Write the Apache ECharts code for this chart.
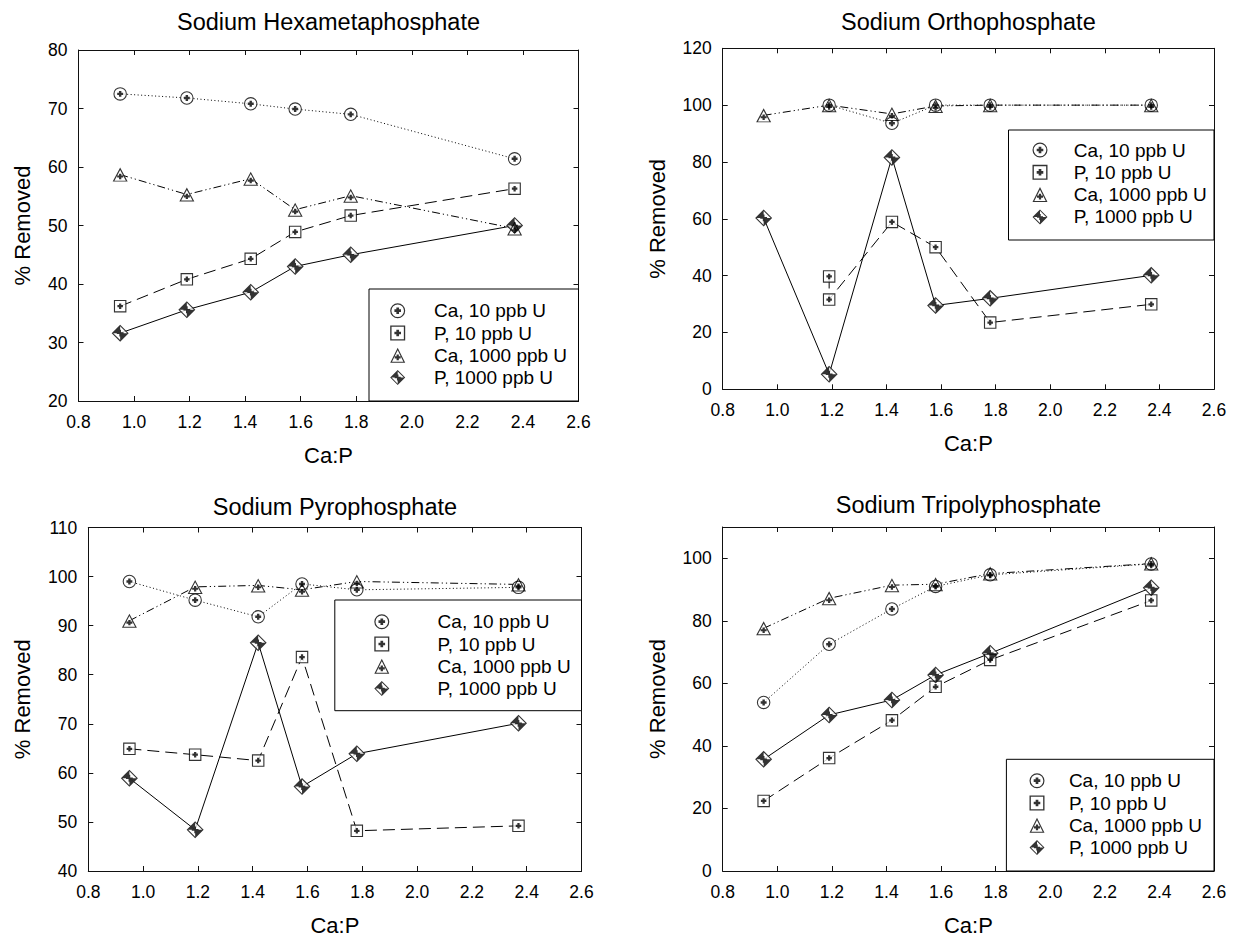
<!DOCTYPE html>
<html><head><meta charset="utf-8">
<script src="https://cdn.jsdelivr.net/npm/echarts@6/dist/echarts.min.js"></script>
<style>html,body{margin:0;padding:0;background:#fff}#chart{width:1233px;height:938px}</style>
</head><body><div id="chart"></div>
<script>
// ---------------- DATA ----------------
const seriesNames = ['Ca, 10 ppb U', 'P, 10 ppb U', 'Ca, 1000 ppb U', 'P, 1000 ppb U'];
const panelTitles = ['Sodium Hexametaphosphate', 'Sodium Orthophosphate', 'Sodium Pyrophosphate', 'Sodium Tripolyphosphate'];
const xAxisTitle = 'Ca:P';
const yAxisTitle = '% Removed';
const xTicks = [0.8, 2.6, 0.2];            // min, max, step
const yTicksHexa = [20, 80, 10];
const yTicksOrtho = [0, 120, 20];
const yTicksPyro = [40, 110, 10];
const yTicksTri = [0, 110, 20];             // last labelled tick is 100

const xCaP = [0.95, 1.19, 1.42, 1.58, 1.78, 2.37];
const xOrthoP10 = [1.19, 1.19, 1.42, 1.58, 1.78, 2.37];

const hexCa10   = [72.5, 71.8, 70.8, 69.9, 69.0, 61.4];
const hexP10    = [36.2, 40.8, 44.3, 48.9, 51.7, 56.3];
const hexCa1000 = [58.7, 55.3, 58.0, 52.7, 55.1, 49.5];
const hexP1000  = [31.6, 35.6, 38.6, 43.0, 45.0, 50.0];

const orthoCa10   = [null, 100, 93.6, 100, 100, 100];
const orthoP10    = [39.7, 31.6, 58.9, 50.0, 23.5, 29.9];
const orthoCa1000 = [96.4, 100, 96.9, 99.7, 100, 100];
const orthoP1000  = [60.3, 5.3, 81.6, 29.5, 32.0, 40.1];

const pyroCa10   = [99.0, 95.2, 91.8, 98.5, 97.3, 97.8];
const pyroP10    = [64.9, 63.7, 62.5, 83.6, 48.2, 49.2];
const pyroCa1000 = [91.0, 97.9, 98.2, 97.3, 99.0, 98.4];
const pyroP1000  = [58.9, 48.4, 86.5, 57.2, 63.9, 70.1];

const triCa10   = [53.9, 72.5, 83.8, 91.0, 94.7, 98.2];
const triP10    = [22.4, 36.1, 48.2, 58.9, 67.5, 86.5];
const triCa1000 = [77.6, 87.2, 91.4, 91.7, 95.1, 98.3];
const triP1000  = [35.7, 49.9, 54.7, 62.7, 69.6, 90.6];

// ---------------- LAYOUT / STYLE ----------------
const FONT = '"Liberation Sans", Arial, Helvetica, sans-serif';
const panels = [
  {y: yTicksHexa, sets: [[xCaP, hexCa10], [xCaP, hexP10], [xCaP, hexCa1000], [xCaP, hexP1000]],
   grid: {left: 78.5, top: 50, width: 500, height: 351}, titleY: 22, yGap: 45.5,
   lbox: [369, 289, 209.5, 112], mk: 28.7, tx: 65, first: 21.7},
  {y: yTicksOrtho, sets: [[xCaP, orthoCa10], [xOrthoP10, orthoP10], [xCaP, orthoCa1000], [xCaP, orthoP1000]],
   grid: {left: 722.7, top: 48.3, width: 491.3, height: 341}, titleY: 22, yGap: 54.7,
   lbox: [1008.5, 130, 205.5, 110], mk: 31.5, tx: 65.2, first: 20},
  {y: yTicksPyro, sets: [[xCaP, pyroCa10], [xCaP, pyroP10], [xCaP, pyroCa1000], [xCaP, pyroP1000]],
   grid: {left: 88.3, top: 527.5, width: 493.2, height: 343.5}, titleY: 507, yGap: 55.3,
   lbox: [334.8, 600, 246.7, 110.7], mk: 47, tx: 102.8, first: 21.7},
  {y: yTicksTri, sets: [[xCaP, triCa10], [xCaP, triP10], [xCaP, triCa1000], [xCaP, triP1000]],
   grid: {left: 722.7, top: 527, width: 491.3, height: 344}, titleY: 505, yGap: 54.7,
   lbox: [1006.4, 759.3, 207.6, 111.7], mk: 30.6, tx: 62.5, first: 21.4}
];

const PLUS = 'M28,41H72V59H28Z M41,28H59V72H41Z';
const GLYPHS = [
  'path://M50,0A50,50 0 1,1 50,100A50,50 0 1,1 50,0Z M50,8A42,42 0 1,0 50,92A42,42 0 1,0 50,8Z ' + PLUS,
  'path://M0,0H100V100H0Z M9,9V91H91V9Z ' + PLUS,
  'path://M50,0L100,100L0,100Z M50,17L12,93L88,93Z M30,56H70V71H30Z M42.5,44H57.5V83H42.5Z',
  'path://M50,0L100,50L50,100L0,50Z M50,9L9,50L50,91L91,50Z M50,0L50,50L0,50Z M50,50L100,50L50,100Z M30,45H70V55H30Z M45,30H55V70H45Z'
];
const UNDER = ['circle', 'rect', 'triangle', 'diamond'];
const SIZES = [13.5, 12.5, [15, 14], 17];
const UNDER_SIZES = [12.5, 11.5, [13, 12], 16];
const DASH = [[1, 2.5], [12, 6], [8, 3, 1.2, 3, 1.2, 3], 'solid'];

const series = [], xAxes = [], yAxes = [], grids = [], titles = [], legends = [], graphics = [];

panels.forEach((p, pi) => {
  grids.push(Object.assign({containLabel: false, show: false}, p.grid));
  const [ymin, ymax, ystep] = p.y;
  const lineCol = '#111';
  const commonX = {gridIndex: pi, type: 'value', min: xTicks[0], max: xTicks[1], interval: xTicks[2],
    axisLine: {show: true, onZero: false, lineStyle: {color: lineCol, width: 1}},
    axisTick: {show: true, inside: true, length: 5, lineStyle: {color: lineCol, width: 1}},
    splitLine: {show: false}};
  xAxes.push(Object.assign({}, commonX, {position: 'bottom',
    axisLabel: {show: true, margin: 12, fontSize: 17.5, color: '#000', fontFamily: FONT, formatter: v => v.toFixed(1)},
    name: xAxisTitle, nameLocation: 'middle', nameGap: 43,
    nameTextStyle: {fontSize: 22, color: '#000', fontFamily: FONT}}));
  xAxes.push(Object.assign({}, commonX, {position: 'top', axisLabel: {show: false}}));
  const commonY = {gridIndex: pi, type: 'value', min: ymin, max: ymax, interval: ystep,
    axisLine: {show: true, onZero: false, lineStyle: {color: lineCol, width: 1}},
    axisTick: {show: true, inside: true, length: 5, lineStyle: {color: lineCol, width: 1}},
    splitLine: {show: false}};
  yAxes.push(Object.assign({}, commonY, {position: 'left',
    axisLabel: {show: true, margin: 11, fontSize: 17.5, color: '#000', fontFamily: FONT,
      formatter: v => ((v - ymin) % ystep === 0 ? String(v) : '')},
    name: yAxisTitle, nameLocation: 'middle', nameGap: p.yGap, nameRotate: 90,
    nameTextStyle: {fontSize: 22, color: '#000', fontFamily: FONT}}));
  yAxes.push(Object.assign({}, commonY, {position: 'right', axisLabel: {show: false}}));

  titles.push({text: panelTitles[pi], left: p.grid.left + p.grid.width / 2, top: p.titleY - 12,
    textAlign: 'center', padding: 0,
    textStyle: {fontSize: 23.5, fontWeight: 'normal', color: '#000', fontFamily: FONT, lineHeight: 24}});

  p.sets.forEach((s, si) => {
    const data = s[0].map((x, i) => [x, s[1][i]]).filter(d => d[1] !== null);
    const axisIdx = {xAxisIndex: 2 * pi, yAxisIndex: 2 * pi};
    series.push(Object.assign({type: 'line', name: seriesNames[si] + ' line', data, showSymbol: false,
      symbol: 'none', silent: true, z: 2,
      lineStyle: {color: '#000', width: 1, type: DASH[si]}}, axisIdx));
    series.push(Object.assign({type: 'scatter', name: seriesNames[si] + ' bg', data, symbol: UNDER[si],
      symbolSize: UNDER_SIZES[si], silent: true, z: 3, itemStyle: {color: '#fff', borderWidth: 0}}, axisIdx));
    series.push(Object.assign({type: 'scatter', name: seriesNames[si], data, symbol: GLYPHS[si],
      symbolSize: SIZES[si], z: 4, itemStyle: {color: '#000', borderWidth: 0}}, axisIdx));
  });

  const [bx, by, bw, bh] = p.lbox;
  graphics.push({type: 'rect', shape: {x: bx, y: by, width: bw, height: bh}, z: 6,
    style: {fill: '#fff', stroke: '#000', lineWidth: 1}});
  legends.push({orient: 'vertical', left: bx + p.mk - 7.5, top: by + p.first - 9.5, padding: 0,
    itemWidth: 15, itemHeight: 15, itemGap: 3.3, selectedMode: false, z: 10,
    itemStyle: {color: '#000', borderWidth: 0},
    textStyle: {fontSize: 19, lineHeight: 19, color: '#000', fontFamily: FONT,
      padding: [0, 0, 0, p.tx - p.mk - 7.5 - 5]},
    data: seriesNames.map((n, i) => ({name: n, icon: GLYPHS[i]}))});
});

const chart = echarts.init(document.getElementById('chart'), null, {renderer: 'svg'});
chart.setOption({
  animation: false,
  backgroundColor: '#fff',
  textStyle: {fontFamily: FONT},
  title: titles, grid: grids, xAxis: xAxes, yAxis: yAxes, legend: legends,
  graphic: {elements: graphics}, series
});
</script></body></html>
